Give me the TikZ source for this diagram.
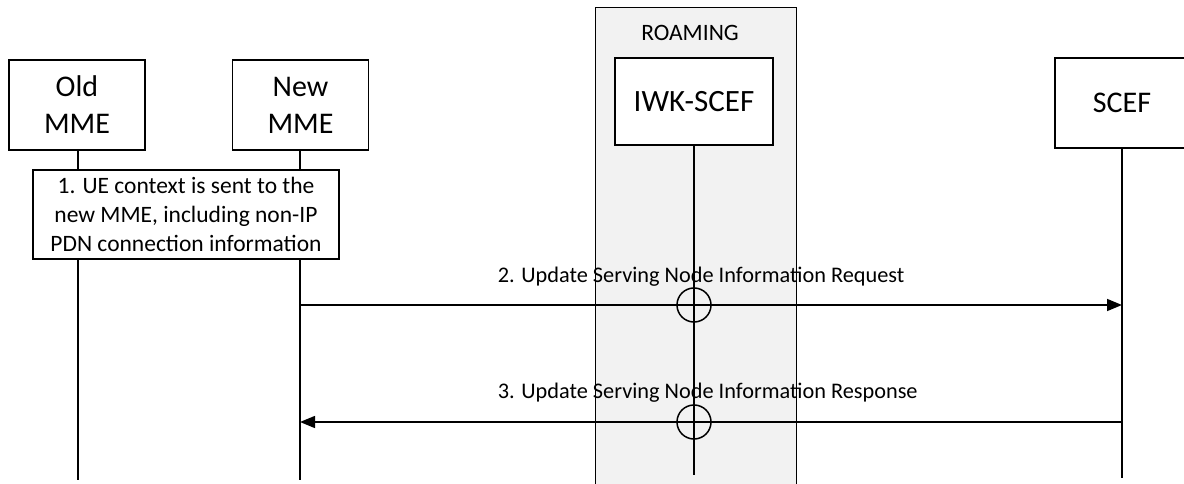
\documentclass[tikz,border=0pt]{standalone}
\usepackage{fontspec}
\setmainfont{Carlito}
\usetikzlibrary{arrows.meta}
\begin{document}
\begin{tikzpicture}[x=1pt,y=-1pt,line width=1.5pt,
  entity/.style={draw,fill=white,minimum width=136pt,minimum height=90pt,inner sep=0pt,align=center,font=\fontsize{30}{37}\selectfont},
  note/.style={draw,fill=white,minimum width=306pt,minimum height=89pt,inner sep=0pt,align=center,font=\fontsize{23.5}{29}\selectfont},
  msg/.style={font=\fontsize{22.3}{26}\selectfont,anchor=west,inner sep=0pt},
  life/.style={line width=1.5pt},
  arr/.style={-{Triangle[length=15pt,width=12pt]}},
  cross/.style={draw,circle,minimum size=34pt,inner sep=0pt}]
\useasboundingbox (0,0) rectangle (1184,484);
% roaming area
\node[draw,fill=black!5,minimum width=201pt,minimum height=490pt,inner sep=0pt,anchor=north west] (roam) at (594.5,7) {};
\node[font=\fontsize{23.5}{27}\selectfont,inner sep=0pt] (roamlbl) at (690,33) {ROAMING};
% entities
\node[entity] (old) at (77,105) {Old\\MME};
\node[entity] (new) at (300.5,105) {New\\MME};
\node[entity,minimum width=158pt,minimum height=87pt,font=\fontsize{31}{37}\selectfont] (iwk) at (694,101.5) {IWK-SCEF};
\node[entity,minimum width=134pt] (scef) at (1122,103) {SCEF};
% lifeline ends
\coordinate (oldend) at (78,480);
\coordinate (newend) at (300,480);
\coordinate (iwkend) at (694,475);
\coordinate (scefend) at (1122,478);
\draw[life] (old.south -| oldend) -- (oldend);
\draw[life] (new.south -| newend) -- (newend);
\draw[life] (iwk.south) -- (iwkend);
\draw[life] (scef.south) -- (scefend);
% note
\node[note] (n1) at (186,214.5) {1. UE context is sent to the\\new MME, including non-IP\\PDN connection information};
% messages
\coordinate (m2s) at (300,305);
\coordinate (m2e) at (1122,305);
\coordinate (m3s) at (1122,422);
\coordinate (m3e) at (300,422);
\draw[arr] (m2s) -- (m2e);
\draw[arr] (m3s) -- (m3e);
\node[msg] (l2) at (497,277) {2. Update Serving Node Information Request};
\node[msg] (l3) at (497,393) {3. Update Serving Node Information Response};
\node[cross] (c2) at (694,305) {};
\node[cross] (c3) at (694,422) {};
\end{tikzpicture}
\end{document}
